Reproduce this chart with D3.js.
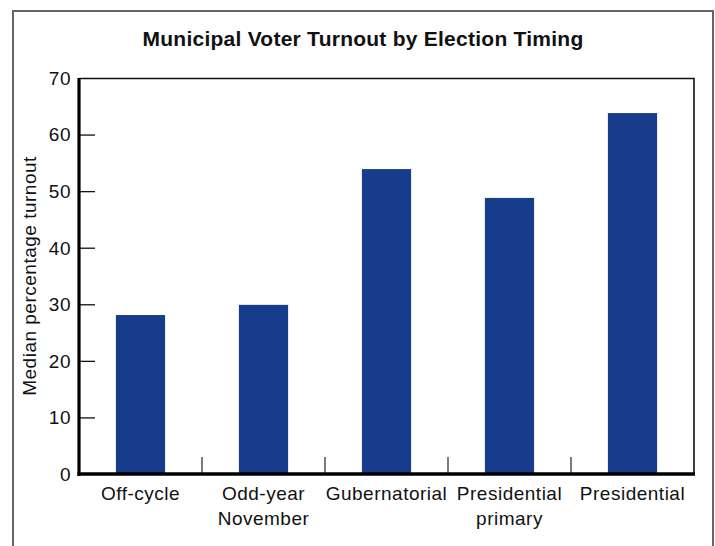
<!DOCTYPE html>
<html>
<head>
<meta charset="utf-8">
<script src="https://cdn.jsdelivr.net/npm/d3@7"></script>
<style>
  body { margin: 0; background: #fff; }
  text { font-family: "Liberation Sans", Arial, Helvetica, sans-serif; fill: #111; }
  .lbl { font-size: 19px; letter-spacing: 0.5px; }
</style>
</head>
<body>
<div id="graph"></div>
<script>
// chart data
const categories = ['Off-cycle', 'Odd-year November', 'Gubernatorial', 'Presidential primary', 'Presidential'];
const categoryLines = [['Off-cycle'], ['Odd-year', 'November'], ['Gubernatorial'], ['Presidential', 'primary'], ['Presidential']];
const turnout = [28.1, 29.9, 53.9, 48.8, 63.8];
const yTicks = [0, 10, 20, 30, 40, 50, 60, 70];

const svgWidth = 715;
const svgHeight = 546;
const margin = { top: 78, right: 21, bottom: 72, left: 79 };
const w = svgWidth - margin.left - margin.right;
const h = svgHeight - margin.top - margin.bottom;

const svg = d3.select('#graph')
  .append('svg')
  .attr('width', svgWidth)
  .attr('height', svgHeight);

// outer frame (bottom runs off the page)
svg.append('rect')
  .attr('x', 13).attr('y', 11)
  .attr('width', 700).attr('height', 560)
  .attr('fill', 'none')
  .attr('stroke', '#666')
  .attr('stroke-width', 2);

svg.append('text')
  .attr('x', 363)
  .attr('y', 46)
  .attr('text-anchor', 'middle')
  .style('font-size', '21px')
  .style('letter-spacing', '0.25px')
  .style('font-weight', 'bold')
  .text('Municipal Voter Turnout by Election Timing');

const g = svg.append('g')
  .attr('transform', `translate(${margin.left}, ${margin.top})`);

const x = d3.scaleBand()
  .domain(categories)
  .range([0, w])
  .paddingInner(0.6)
  .paddingOuter(0.3);

const xb = d3.scaleBand().domain(categories).range([0, w]);

const y = d3.scaleLinear()
  .domain([0, 70])
  .range([h, 0]);

// bars
g.selectAll('.bar')
  .data(turnout)
  .join('rect')
  .attr('class', 'bar')
  .attr('x', (d, i) => x(categories[i]))
  .attr('y', d => y(d))
  .attr('width', x.bandwidth())
  .attr('height', d => h - y(d))
  .attr('fill', '#163c8b');

// plot frame top / right
g.append('path')
  .attr('d', `M0,0.5H${w}V${h}`)
  .attr('fill', 'none')
  .attr('stroke', '#111')
  .attr('stroke-width', 1.6);

// y axis
const yAxis = g.append('g')
  .attr('class', 'axis axis--y')
  .call(d3.axisRight(y).tickValues(yTicks).tickSize(16).tickFormat(''));
yAxis.select('.domain').remove();
yAxis.selectAll('line')
  .attr('stroke', '#111')
  .attr('stroke-width', 1.3)
  .filter(d => d === 0 || d === 70).remove();

g.selectAll('.ylab')
  .data(yTicks)
  .join('text')
  .attr('class', 'ylab lbl')
  .attr('x', -8)
  .attr('y', d => y(d))
  .attr('dy', '0.36em')
  .attr('text-anchor', 'end')
  .text(d => d);

// category separators
g.selectAll('.sep')
  .data(categories.slice(1))
  .join('line')
  .attr('class', 'sep')
  .attr('x1', d => xb(d)).attr('x2', d => xb(d))
  .attr('y1', h).attr('y2', h - 17)
  .attr('stroke', '#333')
  .attr('stroke-width', 1.3);

// thick axis lines
g.append('line')
  .attr('x1', 0).attr('x2', 0).attr('y1', 0).attr('y2', h + 2)
  .attr('stroke', '#000').attr('stroke-width', 3.2);
g.append('line')
  .attr('x1', -1.5).attr('x2', w + 1).attr('y1', h).attr('y2', h)
  .attr('stroke', '#000').attr('stroke-width', 3.5);

// x labels
const xl = g.selectAll('.xlab')
  .data(categories)
  .join('text')
  .attr('class', 'xlab lbl')
  .attr('text-anchor', 'middle')
  .attr('transform', d => `translate(${xb(d) + xb.bandwidth() / 2}, ${h + 26})`);
xl.selectAll('tspan')
  .data((d, i) => categoryLines[i])
  .join('tspan')
  .attr('x', 0)
  .attr('dy', (d, i) => i === 0 ? 0 : 25)
  .text(d => d);

// y axis title
svg.append('text')
  .attr('class', 'lbl')
  .attr('transform', `translate(35.5, ${margin.top + h / 2}) rotate(-90)`)
  .attr('text-anchor', 'middle')
  .text('Median percentage turnout');
</script>
</body>
</html>
